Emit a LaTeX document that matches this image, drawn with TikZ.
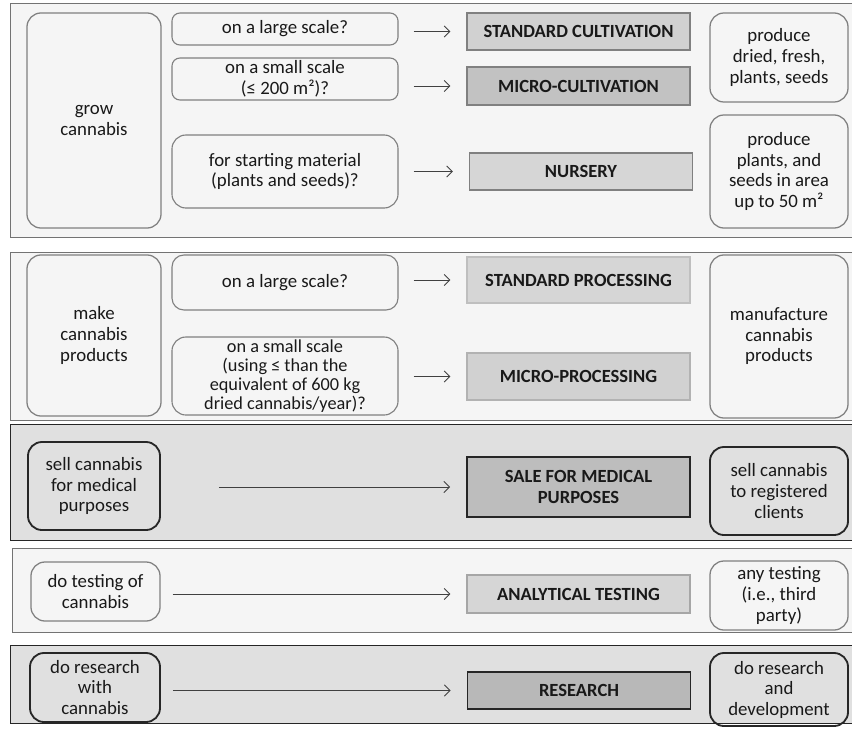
\documentclass[tikz,border=0pt]{standalone}
\usepackage{fontspec}
\setmainfont{Carlito}
\usetikzlibrary{arrows.meta}

\begin{document}
\begin{tikzpicture}[x=0.025cm, y=-0.025cm,
	font=\fontsize{13.4}{14.6}\selectfont, text=black!90,
	band/.style={draw=black!55, line width=0.6pt, fill=black!4},
	darkband/.style={draw=black!85, line width=0.7pt, fill=black!12},
	task/.style={draw=black!50, line width=0.9pt, rounded corners=0.35cm, align=center, minimum width=3.35cm, inner sep=1pt},
	query/.style={draw=black!50, line width=0.8pt, rounded corners=0.2cm, align=center, minimum width=5.65cm, inner sep=1pt},
	licence/.style={draw=black!50, line width=0.8pt, fill=black!18, align=center, minimum width=5.575cm, inner sep=1pt, font=\fontsize{13.2}{15}\selectfont\bfseries},
	remit/.style={draw=black!50, line width=0.9pt, rounded corners=0.35cm, align=center, minimum width=3.45cm, inner sep=1pt},
	heavy/.style={draw=black!85, line width=1.3pt},
	link/.style={draw=black!75, line width=0.6pt, shorten <=0.375cm, shorten >=0.4cm, -{Straight Barb[length=4pt,width=8pt]}}]
	%%%%% START %%%%%
	
	\useasboundingbox (0,0) rectangle (852,729);
	\clip (0,0) rectangle (852,729);
	
	\draw[band] (10,3) rectangle (860,237);
	\draw[band] (10,252) rectangle (860,420);
	\draw[darkband] (10,424) rectangle (860,540);
	\draw[band] (12,548) rectangle (860,632);
	\draw[darkband] (10,645) rectangle (860,723);
	
	% grow
	\node[task, minimum height=5.375cm] (grow) at (94,120.5) {grow\\cannabis};
	\node[query, minimum height=0.8cm] (grow large) at (285,29) {on a large scale?};
	\node[query, minimum height=1.05cm] (grow small) at (285,79) {on a small scale\\(≤ 200 m²)?};
	\node[query, minimum height=1.825cm, rounded corners=0.35cm] (grow start) at (285,171.5) {for starting material\\(plants and seeds)?};
	\node[licence, fill=black!18, minimum height=0.925cm] (std cult) at (578.5,31.5) {STANDARD CULTIVATION};
	\node[licence, fill=black!24, minimum height=0.95cm] (micro cult) at (578.5,86) {MICRO-CULTIVATION};
	\node[licence, fill=black!16, minimum height=0.925cm] (nursery) at (581,171.5) {NURSERY};
	\node[remit, minimum height=2.225cm] (cult out) at (779,57.5) {produce\\dried, fresh,\\plants, seeds};
	\node[remit, minimum height=2.825cm] (nursery out) at (779,171.5) {produce\\plants, and\\seeds in area\\up to 50 m²};
	
	\draw[link] (std cult.west -| grow large.east) -- (std cult.west);
	\draw[link] (micro cult.west -| grow small.east) -- (micro cult.west);
	\draw[link] (nursery.west -| grow start.east) -- (nursery.west);
	
	% make
	\node[task, minimum height=4.025cm] (make) at (94,335.5) {make\\cannabis\\products};
	\node[query, minimum height=1.375cm, rounded corners=0.3cm] (make large) at (285,282.5) {on a large scale?};
	\node[query, minimum height=1.95cm, inner sep=0pt, rounded corners=0.35cm, font=\fontsize{13}{13.6}\selectfont] (make small) at (285,376) {on a small scale\\(using ≤ than the\\equivalent of 600 kg\\dried cannabis/year)?};
	\node[licence, draw=black!25, fill=black!16, minimum height=1.15cm] (std proc) at (578.5,280) {STANDARD PROCESSING};
	\node[licence, draw=black!30, fill=black!18, minimum height=1.175cm] (micro proc) at (578.5,376.5) {MICRO-PROCESSING};
	\node[remit, minimum height=4.075cm] (proc out) at (779,336.5) {manufacture\\cannabis\\products};
	
	\draw[link] (std proc.west -| make large.east) -- (std proc.west);
	\draw[link] (micro proc.west -| make small.east) -- (micro proc.west);
	
	% sell
	\node[task, heavy, minimum height=2.2cm, minimum width=3.3cm] (sell) at (94,486) {sell cannabis\\for medical\\purposes};
	\node[licence, heavy, fill=black!26, minimum height=1.5cm] (sale) at (578.5,487) {SALE FOR MEDICAL\\PURPOSES};
	\node[remit, heavy, minimum height=2.2cm] (sale out) at (779,491) {sell cannabis\\to registered\\clients};
	
	\draw[link, shorten <=1.45cm] (sale.west -| sell.east) -- (sale.west);
	
	% test
	\node[task, minimum height=1.475cm, minimum width=3.225cm] (test) at (95.5,591.5) {do testing of\\cannabis};
	\node[licence, draw=black!35, fill=black!16, minimum height=0.95cm] (analytic) at (578.5,594) {ANALYTICAL TESTING};
	\node[remit, minimum height=1.725cm] (test out) at (779,595.5) {any testing\\(i.e., third\\party)};
	
	\draw[link, shorten <=0.3cm] (analytic.west -| test.east) -- (analytic.west);
	
	% research
	\node[task, heavy, minimum height=1.725cm, minimum width=3.25cm] (research) at (95,687.5) {do research\\with\\cannabis};
	\node[licence, heavy, fill=black!28, minimum height=0.925cm] (rnd) at (579,690.5) {RESEARCH};
	\node[remit, heavy, minimum height=1.825cm] (rnd out) at (779,689.5) {do research\\and\\development};
	
	\draw[link, shorten <=0.3cm] (rnd.west -| research.east) -- (rnd.west);
	
	%%%%% END %%%%%
\end{tikzpicture}
\end{document}
